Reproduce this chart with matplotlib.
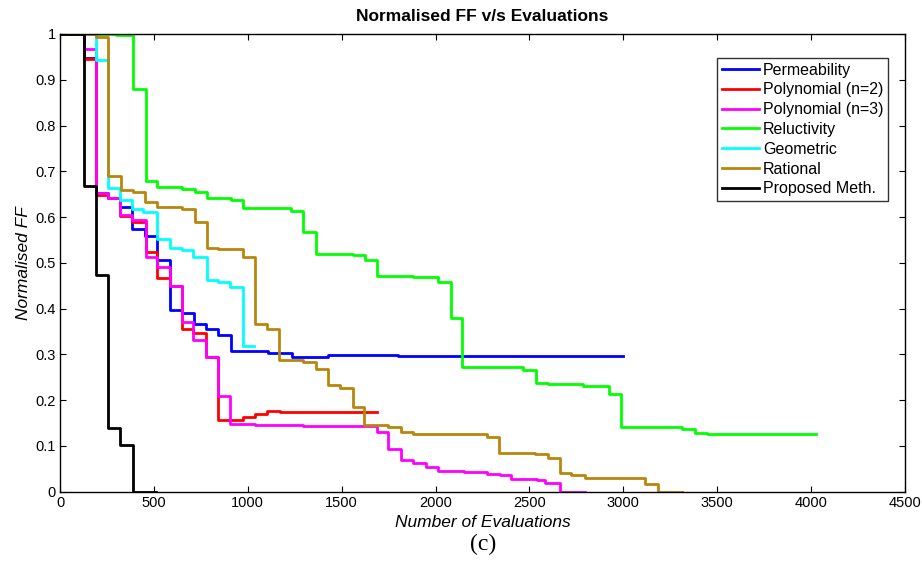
import matplotlib
matplotlib.use("Agg")
import matplotlib.pyplot as plt

# ---- data ----
perm_x = [0, 128, 192, 258, 320, 385, 450, 515, 584, 648, 715, 777, 843, 909, 1109, 1234, 1429, 1600, 1800, 2300, 3000]
perm_y = [1, 0.948, 0.653, 0.642, 0.622, 0.574, 0.559, 0.506, 0.398, 0.391, 0.367, 0.355, 0.342, 0.307, 0.304, 0.295, 0.298, 0.299, 0.297, 0.2965, 0.2965]

poly2_x = [0, 128, 192, 257, 320, 383, 456, 515, 584, 648, 710, 777, 843, 976, 1038, 1104, 1171, 1686]
poly2_y = [1, 0.945, 0.648, 0.641, 0.602, 0.590, 0.524, 0.466, 0.449, 0.355, 0.346, 0.294, 0.157, 0.163, 0.169, 0.176, 0.175, 0.175]

poly3_x = [0, 128, 192, 257, 320, 383, 456, 515, 584, 648, 710, 777, 843, 905, 1038, 1295, 1686, 1749, 1814, 1881, 1947, 2014, 2150, 2272, 2343, 2401, 2538, 2583, 2662, 2796]
poly3_y = [1, 0.968, 0.653, 0.641, 0.604, 0.594, 0.512, 0.492, 0.449, 0.370, 0.331, 0.294, 0.209, 0.148, 0.146, 0.143, 0.131, 0.093, 0.069, 0.062, 0.053, 0.046, 0.043, 0.038, 0.036, 0.027, 0.025, 0.020, 0.0, 0.0]

rel_x = [0, 300, 387, 458, 518, 651, 719, 781, 909, 973, 1230, 1296, 1363, 1559, 1624, 1690, 1881, 2011, 2080, 2141, 2467, 2535, 2600, 2787, 2925, 2986, 3314, 3381, 3443, 4026]
rel_y = [1, 0.997, 0.88, 0.679, 0.665, 0.662, 0.655, 0.641, 0.637, 0.62, 0.614, 0.568, 0.52, 0.517, 0.506, 0.472, 0.468, 0.459, 0.379, 0.272, 0.266, 0.238, 0.235, 0.232, 0.213, 0.142, 0.138, 0.129, 0.126, 0.126]

geo_x = [0, 190, 254, 320, 385, 444, 515, 586, 648, 710, 781, 843, 905, 976, 1033]
geo_y = [1, 0.943, 0.664, 0.637, 0.617, 0.610, 0.552, 0.532, 0.528, 0.513, 0.462, 0.459, 0.447, 0.319, 0.319]

rat_x = [0, 192, 257, 323, 387, 453, 518, 651, 719, 781, 843, 976, 1036, 1104, 1168, 1296, 1363, 1425, 1491, 1559, 1618, 1749, 1814, 1881, 2272, 2337, 2529, 2600, 2662, 2720, 2796, 3115, 3183, 3314]
rat_y = [1, 0.993, 0.690, 0.659, 0.655, 0.633, 0.622, 0.618, 0.589, 0.533, 0.531, 0.513, 0.366, 0.355, 0.288, 0.284, 0.267, 0.233, 0.226, 0.186, 0.145, 0.142, 0.131, 0.125, 0.119, 0.084, 0.082, 0.073, 0.040, 0.036, 0.031, 0.016, 0.0, 0.0]

prop_x = [0, 128, 192, 254, 320, 387, 510]
prop_y = [1, 0.667, 0.473, 0.14, 0.102, 0, 0]

labels = ["Permeability", "Polynomial (n=2)", "Polynomial (n=3)", "Reluctivity",
          "Geometric", "Rational", "Proposed Meth."]
colors = ["#0000ff", "#ff0000", "#ff00ff", "#00ff00", "#00ffff", "#b8860b", "#000000"]

x_ticks = [0, 500, 1000, 1500, 2000, 2500, 3000, 3500, 4000, 4500]
y_ticks = [0, 0.1, 0.2, 0.3, 0.4, 0.5, 0.6, 0.7, 0.8, 0.9, 1]
y_tick_labels = ["0", "0.1", "0.2", "0.3", "0.4", "0.5", "0.6", "0.7", "0.8", "0.9", "1"]

plt.rcParams["font.family"] = ["Liberation Sans", "DejaVu Sans"]

fig = plt.figure(figsize=(9.22, 5.78), dpi=100)
ax = fig.add_axes([0.0651, 0.1493, 0.9165, 0.7919])

series = [(perm_x, perm_y), (poly2_x, poly2_y), (poly3_x, poly3_y), (rel_x, rel_y),
          (geo_x, geo_y), (rat_x, rat_y), (prop_x, prop_y)]
for (xs, ys), lab, c in zip(series, labels, colors):
    ax.plot(xs, ys, drawstyle="steps-post", color=c, lw=2.0, label=lab)

ax.set_xlim(0, 4500)
ax.set_ylim(0, 1)
ax.set_xticks(x_ticks)
ax.set_xticklabels([str(t) for t in x_ticks])
ax.set_yticks(y_ticks)
ax.set_yticklabels(y_tick_labels)
ax.tick_params(direction="in", top=True, right=True, length=4, width=0.8,
               labelsize=10.5, pad=3)
for s in ax.spines.values():
    s.set_linewidth(1.0)

ax.set_title("Normalised FF v/s Evaluations", fontsize=12.5, fontweight="bold", pad=9)
ax.set_xlabel("Number of Evaluations", fontsize=12.5, style="italic", labelpad=4)
ax.set_ylabel("Normalised FF", fontsize=12.5, style="italic", labelpad=3)

leg = ax.legend(loc="upper right", bbox_to_anchor=(0.98, 0.948), fontsize=11.5,
                frameon=True, fancybox=False, edgecolor="black",
                handlelength=2.3, handletextpad=0.25, labelspacing=0.3,
                borderpad=0.3, borderaxespad=0.0)
leg.get_frame().set_linewidth(1.0)

fig.text(0.524, 0.058, "(c)", fontsize=17, family=["Liberation Serif", "DejaVu Serif"],
         ha="center", va="center")

fig.savefig("out.png", dpi=100)
